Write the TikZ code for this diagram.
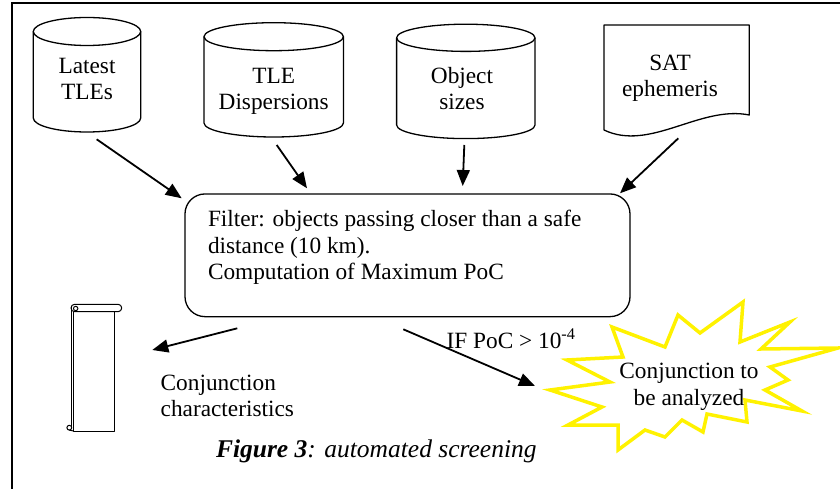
\documentclass[tikz,border=0pt]{standalone}
\usepackage{fontspec}
\setmainfont{Liberation Serif}
\usetikzlibrary{arrows.meta}
\newcommand\dbcyl[6]{% name, cx, topcy, botcy, rx, ry
  \draw[shapeline] (#2-#5,#3) -- (#2-#5,#4)
    arc[start angle=180,end angle=360,x radius=#5 bp,y radius=#6 bp]
    -- (#2+#5,#3)
    arc[start angle=0,end angle=180,x radius=#5 bp,y radius=#6 bp] -- cycle;
  \draw[shapeline] (#2-#5,#3) arc[start angle=180,end angle=360,x radius=#5 bp,y radius=#6 bp];
  \coordinate (#1) at (#2,#4);
}
\begin{document}
\begin{tikzpicture}[x=1bp,y=-1bp,
  every node/.style={inner sep=0pt,outer sep=0pt,font=\fontsize{23.3bp}{26.5bp}\selectfont},
  shapeline/.style={line width=1.3bp,line join=round},
  thinline/.style={line width=1bp,line join=round},
  arr/.style={line width=1.8bp,-{Triangle[length=16bp,width=13bp]}},
  lbl/.style={align=center,anchor=base},
]
\useasboundingbox (0,0) rectangle (840,489);
% frame
\draw[line width=1.6bp] (12,489) -- (12,3) -- (840,3);

% cylinders
\dbcyl{c1}{87}{31.5}{118}{53.7}{14}
\node[lbl] (t1) at (87,100) {Latest\\TLEs};
\dbcyl{c2}{273.7}{36.7}{123}{69.7}{14}
\node[lbl] (t2) at (273.7,110) {TLE\\Dispersions};
\dbcyl{c3}{465.8}{37.8}{125}{69.2}{13.6}
\node[lbl] (t3) at (462,110) {Object\\sizes};

% document
\draw[shapeline] (604,25) -- (749.3,25) -- (749.3,115)
  .. controls (700,105) and (650,152) .. (604,130) -- cycle;
\node[lbl] (t4) at (670,96.7) {SAT\\ephemeris};

% filter box
\node[draw,line width=1.3bp,rounded corners=20bp,minimum width=445bp,minimum height=122.7bp] (filter) at (407.5,255.3) {};
\node[anchor=base west,align=left] (ftxt) at (208,280) {Filter: objects passing closer than a safe\\distance (10 km).\\Computation of Maximum PoC};

% scroll
\draw[thinline] (73.5,311.7) -- (73.5,431) -- (114.3,431) -- (114.3,311.7);
\draw[thinline] (71,306) -- (71,427.7);
\draw[thinline,rounded corners=3.6bp] (71,304.3) rectangle (121.7,311.7);
\draw[thinline] (75.7,308.5) circle[radius=2.2bp];
\draw[thinline] (69.3,427.7) circle[radius=2.4bp];
\draw[thinline] (69.3,430.1) -- (73.5,431);
\coordinate (scroll) at (114,370);

\node[anchor=base west,align=left] (cc) at (160.7,416.7) {Conjunction\\characteristics};

% star
\draw[color=yellow,line width=3.5bp,line join=miter,fill=white]
 (743,302) -- (740,342) -- (790,322) -- (761,349) -- (838,348) -- (770,367)
 -- (788,380) -- (765,390) -- (802,411) -- (745,400) -- (747,422) -- (707,414)
 -- (703,432) -- (682,420) -- (665,437) -- (645,430) -- (618,450) -- (618,425)
 -- (568,425) -- (602,407) -- (550,390) -- (610,382) -- (567,360) -- (623,357)
 -- (612,327) -- (665,347) -- (678,315) -- (700,333) -- cycle;
\node[lbl] (star) at (689,405) {Conjunction to\\be analyzed};

% arrows
\coordinate (a1s) at (96.7,139.3);  \coordinate (a1e) at (181.7,198.3);
\coordinate (a2s) at (276.7,145);   \coordinate (a2e) at (307,188.3);
\coordinate (a3s) at (464.3,145);   \coordinate (a3e) at (462.7,186);
\coordinate (a4s) at (678.3,138.3); \coordinate (a4e) at (620,193.3);
\coordinate (a5s) at (237.3,328.3); \coordinate (a5e) at (152.3,350);
\coordinate (a6s) at (403.3,329.3); \coordinate (a6e) at (535,386);
\draw[arr] (a1s) -- (a1e);
\draw[arr] (a2s) -- (a2e);
\draw[arr] (a3s) -- (a3e);
\draw[arr] (a4s) -- (a4e);
\draw[arr] (a5s) -- (a5e);
\draw[arr] (a6s) -- (a6e);

\node[anchor=base west] (cond) at (446.7,348.3) {IF PoC > 10\textsuperscript{-4}};

% caption
\node[anchor=base west,font=\fontsize{25.5bp}{28bp}\selectfont] (cap) at (216,457.3) {\textbf{\textit{Figure 3}}\textit{: automated screening}};
\end{tikzpicture}
\end{document}
